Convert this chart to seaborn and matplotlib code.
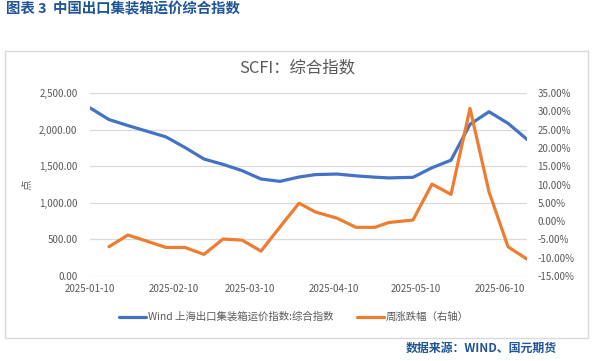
import numpy as np
import pandas as pd
import matplotlib
matplotlib.use("Agg")
import matplotlib.pyplot as plt
import matplotlib.dates as mdates
import matplotlib.ticker as mticker
from matplotlib.patches import Rectangle
from matplotlib.lines import Line2D
import seaborn as sns

# ---------------- data ----------------
dates = ["2025-01-10", "2025-01-17", "2025-01-24", "2025-02-07", "2025-02-14",
         "2025-02-21", "2025-02-28", "2025-03-07", "2025-03-14", "2025-03-21",
         "2025-03-28", "2025-04-03", "2025-04-11", "2025-04-18", "2025-04-25",
         "2025-04-30", "2025-05-09", "2025-05-16", "2025-05-23", "2025-05-30",
         "2025-06-06", "2025-06-13", "2025-06-20"]
index_values = [2297, 2137, 2055, 1900, 1755, 1598, 1525, 1440, 1325, 1293,
                1352, 1385, 1393, 1368, 1350, 1340, 1348, 1479, 1582, 2072,
                2244, 2086, 1867]
weekly_change = [np.nan, -7.0, -3.8, -7.2, -7.2, -9.1, -4.9, -5.2, -8.2, -1.6,
                 4.9, 2.5, 0.8, -1.7, -1.7, -0.4, 0.3, 10.1, 7.3, 30.8,
                 8.0, -7.0, -10.4]
xtick_dates = ["2025-01-10", "2025-02-10", "2025-03-10", "2025-04-10",
               "2025-05-10", "2025-06-10"]
left_ticks = [0, 500, 1000, 1500, 2000, 2500]
right_ticks = [-15, -10, -5, 0, 5, 10, 15, 20, 25, 30, 35]

series_index = "Wind 上海出口集装箱运价指数:综合指数"
series_change = "周涨跌幅（右轴）"
chart_title = "SCFI：综合指数"
header = "图表 3  中国出口集装箱运价综合指数"
source = "数据来源：WIND、国元期货"

df = pd.DataFrame({"date": pd.to_datetime(dates),
                   "index": index_values,
                   "change": weekly_change})

# ---------------- style ----------------
sns.set_theme(style="white")
plt.rcParams["font.family"] = ["Noto Sans CJK SC", "DejaVu Sans"]
plt.rcParams["axes.unicode_minus"] = False

GRAY = "#595959"
GRID = "#D9D9D9"
BLUE = "#4472C4"
ORANGE = "#ED7D31"
HEAD = "#1F5597"

W, H = 601, 361
fig = plt.figure(figsize=(W / 100, H / 100), dpi=100)
fig.patch.set_facecolor("white")

ax = fig.add_axes([90 / W, 1 - 276 / H, 437 / W, 183 / H])
ax2 = ax.twinx()

sns.lineplot(data=df, x="date", y="index", ax=ax, color=BLUE, linewidth=2.3,
             legend=False)
sns.lineplot(data=df.dropna(), x="date", y="change", ax=ax2, color=ORANGE,
             linewidth=2.3, legend=False)

ax.set_xlim(pd.Timestamp(dates[0]), pd.Timestamp(dates[-1]))
ax.set_ylim(0, 2500)
ax2.set_ylim(-15, 35)

ax.set_yticks(left_ticks)
ax.yaxis.set_major_formatter(mticker.FuncFormatter(lambda v, p: f"{v:,.2f}"))
ax2.set_yticks(right_ticks)
ax2.yaxis.set_major_formatter(mticker.FuncFormatter(lambda v, p: f"{v:.2f}%"))

ax.set_xticks(pd.to_datetime(xtick_dates))
ax.xaxis.set_major_formatter(mdates.DateFormatter("%Y-%m-%d"))

ax.grid(axis="y", color=GRID, linewidth=0.9)
ax.grid(axis="x", visible=False)
ax2.grid(False)
ax.set_axisbelow(True)

for a in (ax, ax2):
    for s in a.spines.values():
        s.set_visible(False)
    a.set_xlabel("")
    a.set_ylabel("")
    a.tick_params(length=0, colors=GRAY, labelsize=7)

ax.tick_params(axis="y", pad=9)
ax.tick_params(axis="x", pad=6)
ax2.tick_params(axis="y", pad=7.5)
for lbl in ax2.get_yticklabels():
    lbl.set_horizontalalignment("left")

# y label
fig.text(27 / W, 1 - 185 / H, "点", rotation=90, color=GRAY, fontsize=7.5,
         ha="center", va="center")

# chart title
fig.text(297 / W, 1 - 68 / H, chart_title, color=GRAY, fontsize=11.8,
         ha="center", va="center")

# header and source
fig.text(6 / W, 1 - 9 / H, header, color=HEAD, fontsize=10.4,
         fontweight="bold", ha="left", va="center")
fig.text(557 / W, 1 - 348 / H, source, color=HEAD, fontsize=8.6,
         fontweight="bold", ha="right", va="center")

# frame
fig.patches.append(Rectangle((5 / W, 1 - 338 / H), 583 / W, 287 / H,
                             transform=fig.transFigure, fill=False,
                             edgecolor=GRID, linewidth=1))

# legend
handles = [Line2D([0], [0], color=BLUE, lw=2.3),
           Line2D([0], [0], color=ORANGE, lw=2.3)]
fig.legend(handles, [series_index, series_change], loc="center",
           bbox_to_anchor=(294 / W, 1 - 317 / H), ncol=2, frameon=False,
           fontsize=7.5, labelcolor=GRAY, handlelength=2.6, handletextpad=0.2,
           columnspacing=2.2)

fig.savefig("out.png", dpi=100, facecolor="white")
